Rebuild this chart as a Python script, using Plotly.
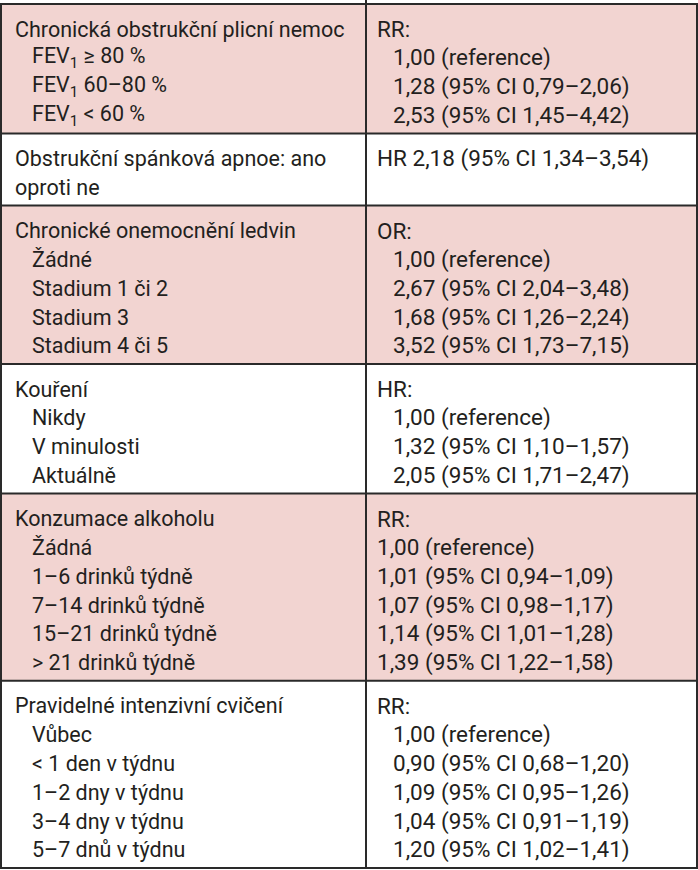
import plotly.graph_objects as go

# ---- data ----
copd_left = ["Chronická obstrukční plicní nemoc", "FEV<sub>1</sub> ≥ 80 %", "FEV<sub>1</sub> 60–80 %", "FEV<sub>1</sub> < 60 %"]
copd_right = ["RR:", "1,00 (reference)", "1,28 (95% CI 0,79–2,06)", "2,53 (95% CI 1,45–4,42)"]

osa_left = ["Obstrukční spánková apnoe: ano", "oproti ne"]
osa_right = ["HR 2,18 (95% CI 1,34–3,54)"]

ckd_left = ["Chronické onemocnění ledvin", "Žádné", "Stadium 1 či 2", "Stadium 3", "Stadium 4 či 5"]
ckd_right = ["OR:", "1,00 (reference)", "2,67 (95% CI 2,04–3,48)", "1,68 (95% CI 1,26–2,24)", "3,52 (95% CI 1,73–7,15)"]

smoke_left = ["Kouření", "Nikdy", "V minulosti", "Aktuálně"]
smoke_right = ["HR:", "1,00 (reference)", "1,32 (95% CI 1,10–1,57)", "2,05 (95% CI 1,71–2,47)"]

alc_left = ["Konzumace alkoholu", "Žádná", "1–6 drinků týdně", "7–14 drinků týdně", "15–21 drinků týdně", "> 21 drinků týdně"]
alc_right = ["RR:", "1,00 (reference)", "1,01 (95% CI 0,94–1,09)", "1,07 (95% CI 0,98–1,17)", "1,14 (95% CI 1,01–1,28)", "1,39 (95% CI 1,22–1,58)"]

ex_left = ["Pravidelné intenzivní cvičení", "Vůbec", "< 1 den v týdnu", "1–2 dny v týdnu", "3–4 dny v týdnu", "5–7 dnů v týdnu"]
ex_right = ["RR:", "1,00 (reference)", "0,90 (95% CI 0,68–1,20)", "1,09 (95% CI 0,95–1,26)", "1,04 (95% CI 0,91–1,19)", "1,20 (95% CI 1,02–1,41)"]

# (left lines, indent sub-items left, right lines, indent sub-items right, shaded)
sections = [
    (copd_left, True, copd_right, True, True),
    (osa_left, False, osa_right, False, False),
    (ckd_left, True, ckd_right, True, True),
    (smoke_left, True, smoke_right, True, False),
    (alc_left, True, alc_right, False, True),
    (ex_left, True, ex_right, True, False),
]

# ---- layout constants ----
W, H = 698, 870
TOP, BOTTOM = 4, 868
LEFT, RIGHT = 1, 697
DIV = 366
LH = 28.8
PAD_TOP = 25
LX, LX_IND = 13, 30
RX, RX_IND = 375, 391
PINK = "#F2D4D1"
LINE = "#2a2a2a"
TXT = "#231f20"
FONT = "Roboto"
FS_L = 21.5
FS_R = 22.5

n_extra = sum(max(len(l), len(r)) - 1 for l, _, r, _, _ in sections)
pad = (BOTTOM - TOP - n_extra * LH) / len(sections)

fig = go.Figure()
shapes = []
annotations = []
y0 = TOP
bounds = [TOP]
for left, lind, right, rind, shaded in sections:
    n = max(len(left), len(right))
    y1 = y0 + pad + (n - 1) * LH
    if shaded:
        shapes.append(dict(type="rect", x0=LEFT, x1=RIGHT, y0=y0, y1=y1,
                           fillcolor=PINK, line=dict(width=0), layer="below"))
    for i, t in enumerate(left):
        annotations.append(dict(x=LX_IND if (lind and i > 0) else LX, y=y0 + PAD_TOP + i * LH,
                                text=t, showarrow=False, xanchor="left", yanchor="middle",
                                font=dict(family=FONT, size=FS_L, color=TXT)))
    for i, t in enumerate(right):
        annotations.append(dict(x=RX_IND if (rind and i > 0) else RX, y=y0 + PAD_TOP + i * LH,
                                text=t, showarrow=False, xanchor="left", yanchor="middle",
                                font=dict(family=FONT, size=FS_R, color=TXT)))
    y0 = y1
    bounds.append(y1)

for b in bounds:
    shapes.append(dict(type="line", x0=LEFT - 1, x1=RIGHT + 1, y0=b, y1=b, line=dict(color=LINE, width=2)))
shapes.append(dict(type="line", x0=LEFT, x1=LEFT, y0=TOP, y1=BOTTOM, line=dict(color=LINE, width=2)))
shapes.append(dict(type="line", x0=RIGHT, x1=RIGHT, y0=TOP, y1=BOTTOM, line=dict(color=LINE, width=2)))
shapes.append(dict(type="line", x0=DIV, x1=DIV, y0=0, y1=BOTTOM, line=dict(color=LINE, width=2)))

fig.update_layout(
    width=W, height=H, margin=dict(l=0, r=0, t=0, b=0),
    paper_bgcolor="white", plot_bgcolor="white",
    xaxis=dict(range=[0, W], visible=False, fixedrange=True),
    yaxis=dict(range=[H, 0], visible=False, fixedrange=True),
    shapes=shapes, annotations=annotations, showlegend=False,
)
fig.write_html("out.html", config={"displayModeBar": False},
               post_script="document.body.style.margin='0';document.body.style.overflow='hidden';")
